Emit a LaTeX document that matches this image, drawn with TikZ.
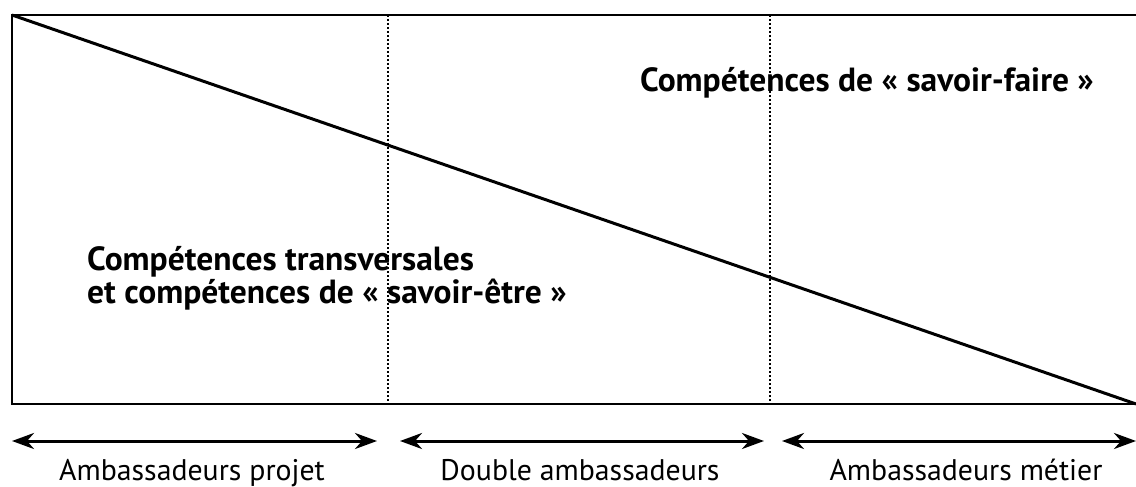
\documentclass[tikz,border=0pt]{standalone}
\usepackage{fontspec}
\setmainfont{PT Sans}
\usetikzlibrary{arrows.meta}

\tikzset{
    span/.style={{Stealth[length=22pt,width=16pt,inset=7pt]}-{Stealth[length=22pt,width=16pt,inset=7pt]}, line width=3pt},
    divider/.style={dash pattern=on 1.6pt off 2.4pt, line width=1.8pt},
    skill/.style={font=\bfseries\fontsize{33.5}{29}\selectfont, inner sep=0pt},
    role/.style={font=\fontsize{29.8}{32}\selectfont, inner sep=0pt}
}

\begin{document}
\begin{tikzpicture}[x=1pt,y=-1pt]
    \useasboundingbox (0,0) rectangle (1136,487);

    % frame
    \coordinate (tl) at (12,15);
    \coordinate (tr) at (1136,15);
    \coordinate (bl) at (12,404);
    \coordinate (br) at (1136,404);
    \draw [line width=1.6pt] (tr) -- (tl) -- (bl) -- (br);
    \draw [line width=3pt] (tl) -- (br);

    % dotted separators
    \coordinate (d1t) at (388,15);
    \coordinate (d1b) at (388,404);
    \coordinate (d2t) at (770,15);
    \coordinate (d2b) at (770,404);
    \draw [divider] (d1t) -- (d1b);
    \draw [divider] (d2t) -- (d2b);

    \node [skill, anchor=base west] (faire) at (640,92) {Compétences de « savoir-faire »};
    \node [skill, anchor=base west, align=left] (etre) at (87,303) {Compétences transversales\\et compétences de « savoir-être »};

    % spans
    \coordinate (a1l) at (12,441);
    \coordinate (a1r) at (377,441);
    \coordinate (a2l) at (400,441);
    \coordinate (a2r) at (764,441);
    \coordinate (a3l) at (782,441);
    \coordinate (a3r) at (1136,441);
    \draw [span] (a1l) -- (a1r);
    \draw [span] (a2l) -- (a2r);
    \draw [span] (a3l) -- (a3r);

    \node [role, anchor=base] (projet) at (192,480) {Ambassadeurs projet};
    \node [role, anchor=base] (double) at (580,480) {Double ambassadeurs};
    \node [role, anchor=base] (metier) at (966,480) {Ambassadeurs métier};
\end{tikzpicture}
\end{document}
